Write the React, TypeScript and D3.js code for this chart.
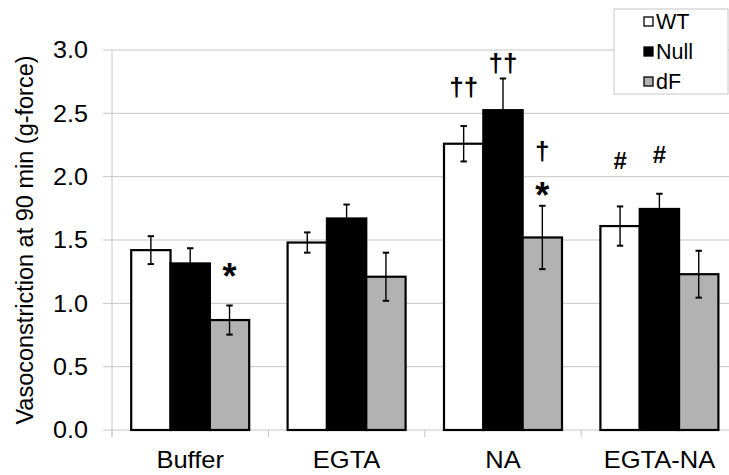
import React from "react";
import * as d3 from "d3";

const categories = ["Buffer", "EGTA", "NA", "EGTA-NA"];
const series = ["WT", "Null", "dF"];
const wtMeans = [1.42, 1.48, 2.26, 1.61];
const wtErr = [0.11, 0.08, 0.14, 0.155];
const nullMeans = [1.315, 1.67, 2.525, 1.745];
const nullErr = [0.12, 0.11, 0.25, 0.12];
const dfMeans = [0.868, 1.21, 1.52, 1.23];
const dfErr = [0.115, 0.19, 0.25, 0.185];
const yTicks = [0, 0.5, 1.0, 1.5, 2.0, 2.5, 3.0];

// significance marks: category, series, text, baseline value
const markCategory = ["Buffer", "NA", "NA", "NA", "NA", "EGTA-NA", "EGTA-NA"];
const markSeries = ["dF", "WT", "Null", "dF", "dF", "WT", "Null"];
const markText = ["*", "††", "††", "†", "*", "#", "#"];
const markValue = [1.115, 2.64, 2.83, 2.13, 1.75, 2.064, 2.104];

const fills: Record<string, string> = { WT: "#ffffff", Null: "#000000", dF: "#b2b2b2" };
const FONT = "'Liberation Sans', Arial, sans-serif";

export default function App() {
  const W = 729, H = 475;
  const plotLeft = 112;
  const band = 156.4;
  const x0 = d3.scaleBand<string>().domain(categories).range([plotLeft, plotLeft + band * categories.length]);
  const groupPad = 19.2;
  const x1 = d3.scaleBand<string>().domain(series).range([groupPad, x0.bandwidth() - groupPad]);
  const y = d3.scaleLinear().domain([0, 3]).range([430, 50]);

  const seriesData: Record<string, { m: number[]; e: number[] }> = {
    WT: { m: wtMeans, e: wtErr },
    Null: { m: nullMeans, e: nullErr },
    dF: { m: dfMeans, e: dfErr },
  };
  const grid = "#c6c6c6";
  const capW = 3.2;

  return (
    <svg width={W} height={H} style={{ position: "absolute", left: 0, top: 0, background: "#fff" }}>
      {/* gridlines */}
      {yTicks.map((t) => (
        <line key={"g" + t} x1={103} x2={W} y1={y(t)} y2={y(t)} stroke={grid} strokeWidth={1} />
      ))}
      {/* y axis */}
      <line x1={plotLeft} x2={plotLeft} y1={y(3)} y2={y(0) + 7} stroke={grid} strokeWidth={1} />
      {/* category ticks */}
      {categories.map((c) => (
        <line key={"ct" + c} x1={x0(c)!} x2={x0(c)!} y1={y(0)} y2={y(0) + 7} stroke={grid} strokeWidth={1} />
      ))}
      {/* y tick labels */}
      {yTicks.map((t) => (
        <text
          key={"yl" + t}
          transform={`translate(88,${y(t)}) scale(1.07,1)`}
          dy="0.36em"
          textAnchor="end"
          fontFamily={FONT}
          fontSize={23.5}
          fill="#000"
        >
          {d3.format(".1f")(t)}
        </text>
      ))}
      {/* y title */}
      <text
        transform={`translate(33,${(y(0) + y(3)) / 2}) rotate(-90)`}
        textAnchor="middle"
        fontFamily={FONT}
        fontSize={23.5}
        fill="#000"
      >
        Vasoconstriction at 90 min (g-force)
      </text>
      {/* bars */}
      {categories.map((c, ci) =>
        series.map((s) => {
          const v = seriesData[s].m[ci];
          const bx = x0(c)! + x1(s)!;
          return (
            <rect
              key={"b" + c + s}
              x={bx}
              y={y(v)}
              width={x1.bandwidth()}
              height={y(0) - y(v)}
              fill={fills[s]}
              stroke="#000"
              strokeWidth={2.2}
            />
          );
        })
      )}
      {/* error bars */}
      {categories.map((c, ci) =>
        series.map((s) => {
          const v = seriesData[s].m[ci];
          const e = seriesData[s].e[ci];
          const cx = x0(c)! + x1(s)! + x1.bandwidth() / 2;
          return (
            <g key={"e" + c + s} stroke="#000" strokeWidth={1.4}>
              <line x1={cx} x2={cx} y1={y(v + e)} y2={y(v - e)} />
              <line x1={cx - capW} x2={cx + capW} y1={y(v + e)} y2={y(v + e)} strokeWidth={2} />
              <line x1={cx - capW} x2={cx + capW} y1={y(v - e)} y2={y(v - e)} strokeWidth={2} />
            </g>
          );
        })
      )}
      {/* category labels */}
      {categories.map((c) => (
        <text
          key={"cl" + c}
          transform={`translate(${x0(c)! + x0.bandwidth() / 2},468) scale(1.11,1)`}
          textAnchor="middle"
          fontFamily={FONT}
          fontSize={23}
          fill="#000"
        >
          {c}
        </text>
      ))}
      {/* significance marks */}
      {markText.map((t, i) => {
        const cx = x0(markCategory[i])! + x1(markSeries[i])! + x1.bandwidth() / 2;
        const size = t === "*" ? 36 : t === "#" ? 24 : 26;
        return (
          <text key={"m" + i} x={cx} y={y(markValue[i])} textAnchor="middle" fontFamily={FONT} fontWeight="bold" fontSize={size} fill="#000">
            {t}
          </text>
        );
      })}
      {/* legend */}
      <rect x={614} y={9} width={114} height={85} fill="#fff" stroke={grid} strokeWidth={1} />
      {series.map((s, i) => (
        <g key={"lg" + s}>
          <rect x={644} y={17 + i * 30} width={9} height={9} fill={fills[s]} stroke="#000" strokeWidth={1.3} />
          <text x={656} y={21.5 + i * 30} dy="0.36em" fontFamily={FONT} fontSize={21.5} fill="#000">
            {s}
          </text>
        </g>
      ))}
    </svg>
  );
}
